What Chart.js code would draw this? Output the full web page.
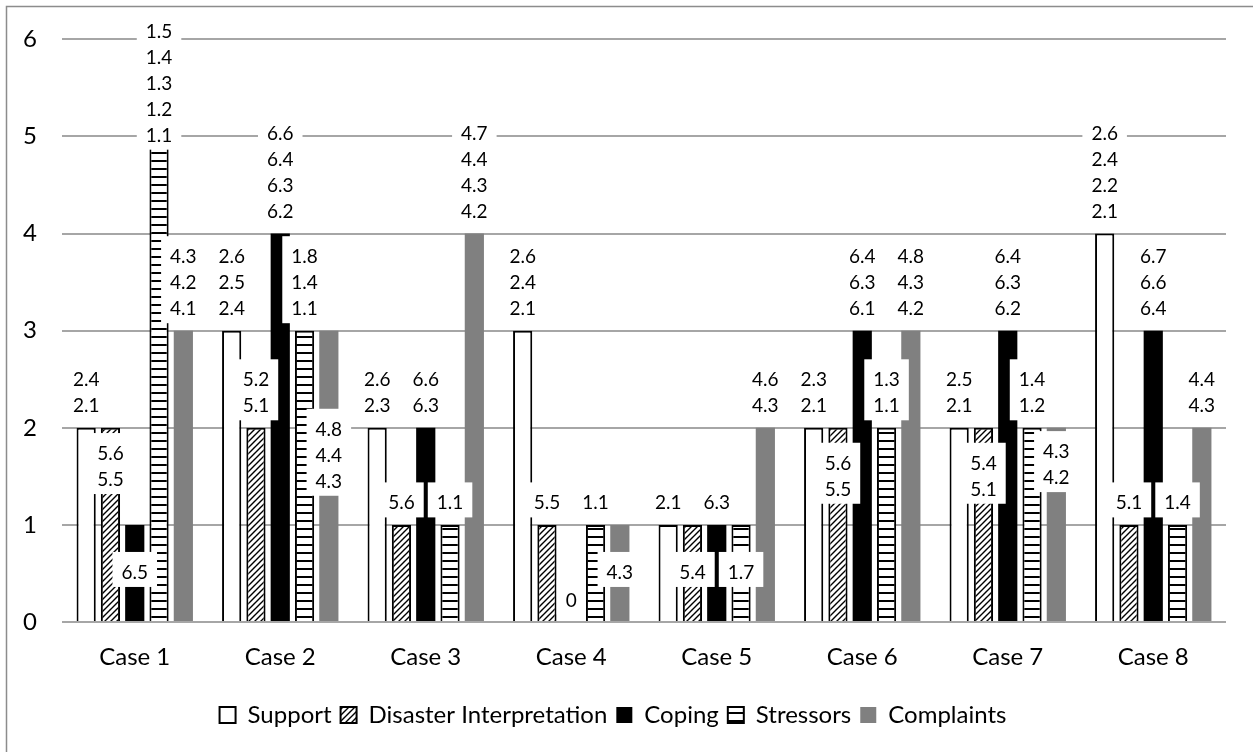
<!DOCTYPE html>
<html>
<head>
<meta charset="utf-8">
<script src="https://cdn.jsdelivr.net/npm/chart.js@4"></script>
<style>
  body { margin: 0; background: #fff; }
</style>
</head>
<body>
<canvas id="chart" width="1253" height="752"></canvas>
<script>
const cases = ['Case 1', 'Case 2', 'Case 3', 'Case 4', 'Case 5', 'Case 6', 'Case 7', 'Case 8'];

const support     = [2, 3, 2, 3, 1, 2, 2, 4];
const disaster    = [2, 2, 1, 1, 1, 2, 2, 1];
const coping      = [1, 4, 2, 0, 1, 3, 3, 3];
const stressors   = [5, 3, 1, 1, 1, 2, 2, 1];
const complaints  = [3, 3, 4, 1, 2, 3, 2, 2];

// code numbers printed on each bar
const supportCodes    = ['2.4\n2.1', '2.6\n2.5\n2.4', '2.6\n2.3', '2.6\n2.4\n2.1', '2.1', '2.3\n2.1', '2.5\n2.1', '2.6\n2.4\n2.2\n2.1'];
const disasterCodes   = ['5.6\n5.5', '5.2\n5.1', '5.6', '5.5', '5.4', '5.6\n5.5', '5.4\n5.1', '5.1'];
const copingCodes     = ['6.5', '6.6\n6.4\n6.3\n6.2', '6.6\n6.3', '0', '6.3', '6.4\n6.3\n6.1', '6.4\n6.3\n6.2', '6.7\n6.6\n6.4'];
const stressorsCodes  = ['1.5\n1.4\n1.3\n1.2\n1.1', '1.8\n1.4\n1.1', '1.1', '1.1', '1.7', '1.3\n1.1', '1.4\n1.2', '1.4'];
const complaintsCodes = ['4.3\n4.2\n4.1', '4.8\n4.4\n4.3', '4.7\n4.4\n4.3\n4.2', '4.3', '4.6\n4.3', '4.8\n4.3\n4.2', '4.3\n4.2', '4.4\n4.3'];

// label placement: 'o' above the bar, 'c' middle of the bar, number = axis value of the first line
const supportSpots    = ['o', 'o', 'o', 'o', 'o', 'o', 'o', 'o'];
const disasterSpots   = [1.74, 'o', 'o', 'o', 'c', 1.64, 1.64, 'o'];
const copingSpots     = ['c', 'o', 'o', 'o', 'o', 'o', 'o', 'o'];
const stressorsSpots  = [6.09, 'o', 'o', 'o', 'c', 'o', 'o', 'o'];
const complaintsSpots = ['o', 1.99, 'o', 'c', 'o', 'o', 1.76, 'o'];

const ctx = document.getElementById('chart').getContext('2d');

function hatch() {
  const c = document.createElement('canvas');
  c.width = 6; c.height = 6;
  const g = c.getContext('2d');
  g.fillStyle = '#fff';
  g.fillRect(0, 0, 6, 6);
  g.strokeStyle = '#000';
  g.lineWidth = 1.4;
  g.beginPath();
  g.moveTo(0, 6); g.lineTo(6, 0);
  g.moveTo(-1, 1); g.lineTo(1, -1);
  g.moveTo(5, 7); g.lineTo(7, 5);
  g.stroke();
  return ctx.createPattern(c, 'repeat');
}

function stripes() {
  const c = document.createElement('canvas');
  c.width = 8; c.height = 8;
  const g = c.getContext('2d');
  g.fillStyle = '#fff';
  g.fillRect(0, 0, 8, 8);
  g.fillStyle = '#000';
  g.fillRect(0, 0, 8, 2);
  return ctx.createPattern(c, 'repeat');
}

const frame = {
  id: 'frame',
  beforeDraw(chart) {
    const c = chart.ctx;
    c.save();
    c.fillStyle = '#fff';
    c.fillRect(0, 0, chart.width, chart.height);
    c.strokeStyle = '#8c8c8c';
    c.lineWidth = 1.5;
    c.beginPath();
    c.moveTo(6.5, chart.height + 5);
    c.lineTo(6.5, 6.5);
    c.lineTo(chart.width + 5, 6.5);
    c.stroke();
    c.restore();
  }
};

const barLabels = {
  id: 'barLabels',
  afterDatasetsDraw(chart) {
    const c = chart.ctx;
    const y = chart.scales.y;
    c.save();
    c.font = '19px Lato';
    c.textAlign = 'center';
    c.textBaseline = 'alphabetic';
    chart.data.datasets.forEach((ds, i) => {
      chart.getDatasetMeta(i).data.forEach((bar, j) => {
        const lines = ds.codes[j].split('\n');
        const n = lines.length;
        const spot = ds.spots[j];
        let first;
        if (spot === 'o') first = bar.y - 22.5 - (n - 1) * 26;
        else if (spot === 'c') first = (bar.y + bar.base) / 2 - 1 - (n - 1) * 13;
        else first = y.getPixelForValue(spot);
        const last = first + (n - 1) * 26;
        const w = Math.max(...lines.map(t => c.measureText(t).width)) + 18;
        c.fillStyle = '#fff';
        c.fillRect(bar.x - w / 2, first - 20, w, last - first + 35);
        c.fillStyle = '#000';
        lines.forEach((t, k) => c.fillText(t, bar.x, first + k * 26 + 7));
      });
    });
    c.restore();
  }
};

function draw() {
  new Chart(ctx, {
    type: 'bar',
    data: {
      labels: cases,
      datasets: [
        { label: 'Support', data: support, codes: supportCodes, spots: supportSpots,
          backgroundColor: '#fff', borderColor: '#000', borderWidth: 2 },
        { label: 'Disaster Interpretation', data: disaster, codes: disasterCodes, spots: disasterSpots,
          backgroundColor: hatch(), borderColor: '#000', borderWidth: 2 },
        { label: 'Coping', data: coping, codes: copingCodes, spots: copingSpots,
          backgroundColor: '#000', borderColor: '#000', borderWidth: 0 },
        { label: 'Stressors', data: stressors, codes: stressorsCodes, spots: stressorsSpots,
          backgroundColor: stripes(), borderColor: '#000', borderWidth: 2 },
        { label: 'Complaints', data: complaints, codes: complaintsCodes, spots: complaintsSpots,
          backgroundColor: '#808080', borderColor: '#808080', borderWidth: 0 }
      ]
    },
    options: {
      responsive: false,
      animation: false,
      categoryPercentage: 0.835,
      barPercentage: 0.79,
      layout: { padding: { top: 35, right: 27, bottom: 15, left: 0 } },
      plugins: {
        tooltip: { enabled: false },
        legend: {
          position: 'bottom',
          labels: {
            font: { family: 'Lato', size: 24 },
            color: '#000',
            boxWidth: 16,
            boxHeight: 16,
            padding: 9
          }
        }
      },
      scales: {
        x: {
          grid: { display: false, drawTicks: false },
          border: { display: false },
          ticks: { font: { family: 'Lato', size: 24 }, color: '#000', padding: 21 },
          afterFit: s => { s.height = 72; }
        },
        y: {
          min: 0,
          max: 6,
          grid: { color: '#a6a6a6', lineWidth: 2, drawTicks: false },
          border: { display: false },
          ticks: { stepSize: 1, font: { family: 'Lato', size: 24 }, color: '#000', padding: 25 },
          afterFit: s => { s.width = 62; }
        }
      }
    },
    plugins: [frame, barLabels]
  });
}

if (document.fonts && document.fonts.load) {
  Promise.all([document.fonts.load('24px Lato'), document.fonts.load('19px Lato')]).then(draw, draw);
} else {
  draw();
}
</script>
</body>
</html>
